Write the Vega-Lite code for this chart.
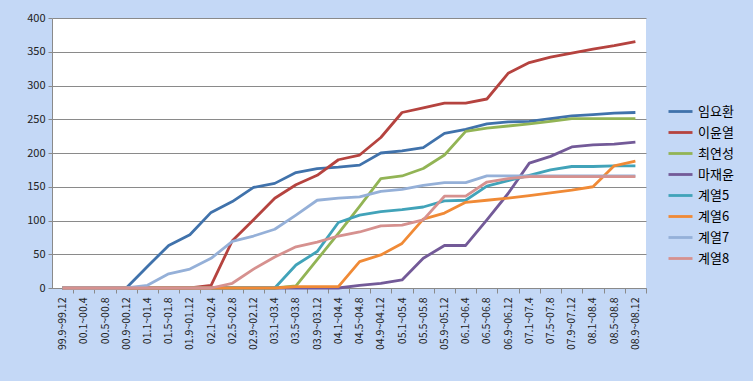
{
  "$schema": "https://vega.github.io/schema/vega-lite/v6.json",
  "width": 594,
  "height": 270,
  "autosize": {"type": "none"},
  "padding": {"left": 52, "top": 18, "right": 107, "bottom": 93},
  "background": "#c4d8f6",
  "config": {
    "view": {"fill": "white", "stroke": null},
    "font": "Noto Sans CJK KR"
  },
  "data": {
    "values": [
      {"p": "99.9~99.12", "임요환": 0, "이윤열": 0, "최연성": 0, "마재윤": 0, "계열5": 0, "계열6": 0, "계열7": 0, "계열8": 0},
      {"p": "00.1~00.4", "임요환": 0, "이윤열": 0, "최연성": 0, "마재윤": 0, "계열5": 0, "계열6": 0, "계열7": 0, "계열8": 0},
      {"p": "00.5~00.8", "임요환": 0, "이윤열": 0, "최연성": 0, "마재윤": 0, "계열5": 0, "계열6": 0, "계열7": 0, "계열8": 0},
      {"p": "00.9~00.12", "임요환": 0, "이윤열": 0, "최연성": 0, "마재윤": 0, "계열5": 0, "계열6": 0, "계열7": 0, "계열8": 0},
      {"p": "01.1~01.4", "임요환": 32, "이윤열": 0, "최연성": 0, "마재윤": 0, "계열5": 0, "계열6": 0, "계열7": 4, "계열8": 0},
      {"p": "01.5~01.8", "임요환": 63, "이윤열": 0, "최연성": 0, "마재윤": 0, "계열5": 0, "계열6": 0, "계열7": 21, "계열8": 0},
      {"p": "01.9~01.12", "임요환": 79, "이윤열": 0, "최연성": 0, "마재윤": 0, "계열5": 0, "계열6": 0, "계열7": 28, "계열8": 0},
      {"p": "02.1~02.4", "임요환": 112, "이윤열": 4, "최연성": 0, "마재윤": 0, "계열5": 0, "계열6": 0, "계열7": 44, "계열8": 0},
      {"p": "02.5~02.8", "임요환": 128, "이윤열": 70, "최연성": 0, "마재윤": 0, "계열5": 0, "계열6": 0, "계열7": 69, "계열8": 7},
      {"p": "02.9~02.12", "임요환": 149, "이윤열": 101, "최연성": 0, "마재윤": 0, "계열5": 0, "계열6": 0, "계열7": 77, "계열8": 28},
      {"p": "03.1~03.4", "임요환": 155, "이윤열": 133, "최연성": 0, "마재윤": 0, "계열5": 0, "계열6": 0, "계열7": 87, "계열8": 46},
      {"p": "03.5~03.8", "임요환": 171, "이윤열": 153, "최연성": 3, "마재윤": 0, "계열5": 34, "계열6": 2, "계열7": 108, "계열8": 61},
      {"p": "03.9~03.12", "임요환": 177, "이윤열": 167, "최연성": 42, "마재윤": 0, "계열5": 54, "계열6": 2, "계열7": 130, "계열8": 68},
      {"p": "04.1~04.4", "임요환": 179, "이윤열": 190, "최연성": 81, "마재윤": 0, "계열5": 97, "계열6": 2, "계열7": 133, "계열8": 77},
      {"p": "04.5~04.8", "임요환": 182, "이윤열": 197, "최연성": 121, "마재윤": 4, "계열5": 108, "계열6": 39, "계열7": 135, "계열8": 83},
      {"p": "04.9~04.12", "임요환": 200, "이윤열": 223, "최연성": 162, "마재윤": 7, "계열5": 113, "계열6": 49, "계열7": 143, "계열8": 92},
      {"p": "05.1~05.4", "임요환": 203, "이윤열": 260, "최연성": 166, "마재윤": 12, "계열5": 116, "계열6": 66, "계열7": 146, "계열8": 93},
      {"p": "05.5~05.8", "임요환": 208, "이윤열": 267, "최연성": 177, "마재윤": 44, "계열5": 120, "계열6": 102, "계열7": 152, "계열8": 101},
      {"p": "05.9~05.12", "임요환": 229, "이윤열": 274, "최연성": 197, "마재윤": 63, "계열5": 129, "계열6": 111, "계열7": 156, "계열8": 136},
      {"p": "06.1~06.4", "임요환": 235, "이윤열": 274, "최연성": 232, "마재윤": 63, "계열5": 130, "계열6": 127, "계열7": 156, "계열8": 136},
      {"p": "06.5~06.8", "임요환": 243, "이윤열": 280, "최연성": 237, "마재윤": 101, "계열5": 151, "계열6": 130, "계열7": 166, "계열8": 157},
      {"p": "06.9~06.12", "임요환": 246, "이윤열": 318, "최연성": 240, "마재윤": 140, "계열5": 159, "계열6": 133, "계열7": 166, "계열8": 162},
      {"p": "07.1~07.4", "임요환": 247, "이윤열": 334, "최연성": 243, "마재윤": 185, "계열5": 167, "계열6": 137, "계열7": 166, "계열8": 165},
      {"p": "07.5~07.8", "임요환": 251, "이윤열": 342, "최연성": 247, "마재윤": 195, "계열5": 175, "계열6": 141, "계열7": 166, "계열8": 165},
      {"p": "07.9~07.12", "임요환": 255, "이윤열": 348, "최연성": 251, "마재윤": 209, "계열5": 180, "계열6": 145, "계열7": 166, "계열8": 165},
      {"p": "08.1~08.4", "임요환": 257, "이윤열": 354, "최연성": 251, "마재윤": 212, "계열5": 180, "계열6": 150, "계열7": 166, "계열8": 165},
      {"p": "08.5~08.8", "임요환": 259, "이윤열": 359, "최연성": 251, "마재윤": 213, "계열5": 181, "계열6": 181, "계열7": 166, "계열8": 165},
      {"p": "08.9~08.12", "임요환": 260, "이윤열": 365, "최연성": 251, "마재윤": 216, "계열5": 181, "계열6": 188, "계열7": 166, "계열8": 165}
    ]
  },
  "transform": [
    {"fold": ["임요환", "이윤열", "최연성", "마재윤", "계열5", "계열6", "계열7", "계열8"], "as": ["series", "value"]}
  ],
  "mark": {"type": "line", "strokeWidth": 2.8, "strokeJoin": "round"},
  "encoding": {
    "x": {
      "field": "p",
      "type": "ordinal",
      "sort": null,
      "scale": {"type": "point", "padding": 0.5},
      "axis": {
        "title": null,
        "labelAngle": -90,
        "labelFontSize": 10.5,
        "labelColor": "#222222",
        "labelFont": "Noto Sans CJK KR",
        "labelPadding": 4,
        "tickSize": 5,
        "tickOffset": 10.6,
        "labelOffset": -10.6,
        "tickColor": "#8a8a8a",
        "domainColor": "#8a8a8a",
        "grid": false
      }
    },
    "y": {
      "field": "value",
      "type": "quantitative",
      "scale": {"domain": [0, 400], "nice": false},
      "axis": {
        "title": null,
        "values": [0, 50, 100, 150, 200, 250, 300, 350, 400],
        "grid": true,
        "gridColor": "#8a8a8a",
        "domainColor": "#8a8a8a",
        "tickColor": "#8a8a8a",
        "tickSize": 4,
        "labelPadding": 3,
        "labelFontSize": 11,
        "labelColor": "#222222",
        "labelFont": "Noto Sans CJK KR"
      }
    },
    "color": {
      "field": "series",
      "type": "nominal",
      "scale": {
        "domain": ["임요환", "이윤열", "최연성", "마재윤", "계열5", "계열6", "계열7", "계열8"],
        "range": ["#4072ab", "#b5433f", "#92b455", "#735a98", "#41a3b9", "#f08a36", "#95b0d8", "#d6918f"]
      },
      "legend": {
        "title": null,
        "orient": "none",
        "legendX": 615,
        "legendY": 80,
        "symbolType": "stroke",
        "symbolSize": 576,
        "symbolStrokeWidth": 2.8,
        "rowPadding": 0,
        "labelFontSize": 13,
        "labelColor": "#000000",
        "labelFont": "Noto Sans CJK KR",
        "labelOffset": 4
      }
    }
  }
}
